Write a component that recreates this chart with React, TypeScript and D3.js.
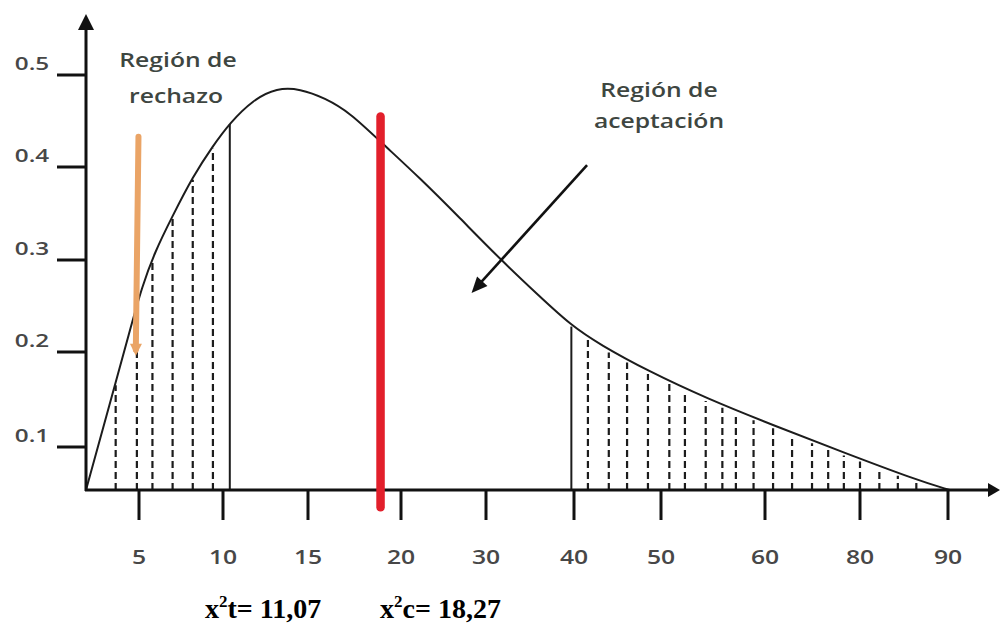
import React from "react";
import * as d3 from "d3";

// tick values
const xTicks = [5, 10, 15, 20, 30, 40, 50, 60, 80, 90];
const yTicks = [0.1, 0.2, 0.3, 0.4, 0.5];

// density curve (chi-square shape)
const curveX = [0, 2.26, 4.15, 5.18, 5.95, 6.96, 8.21, 9.4, 10.41, 11.76, 13.18, 14.53, 15.91, 17.26, 18.92, 22.24, 26.94, 31.59, 36.14, 39.66, 42.99, 48.51, 54.42, 61.68, 76.42, 86.48, 90.2];
const curveY = [0, 0.146, 0.224, 0.271, 0.309, 0.346, 0.39, 0.423, 0.448, 0.473, 0.486, 0.485, 0.475, 0.459, 0.427, 0.388, 0.345, 0.301, 0.26, 0.229, 0.208, 0.18, 0.151, 0.123, 0.088, 0.023, 0];

// hatching of the two shaded tails
const leftHatch = [2.8, 4.8, 5.8, 7.0, 8.2, 9.4];
const leftEdge = 10.4;
const rightHatch = [41.6, 44.0, 46.1, 48.5, 50.8, 52.3, 54.3, 55.9, 57.2, 58.9, 61.7, 65.7, 69.9, 73.3, 76.6, 80, 82.2, 84.3, 86.4];
const rightEdge = 39.7;

// calculated statistic line
const chiCalcX = 18.9;
const chiT = "11,07";
const chiC = "18,27";

export default function App() {
  // the axes are drawn by hand, so the spacing is uneven
  const x = d3.scaleLinear()
    .domain([0, ...xTicks])
    .range([86, 139, 223, 308, 401, 486, 574, 661, 765, 860, 948]);
  const y = d3.scaleLinear()
    .domain([0, ...yTicks])
    .range([490, 447, 352, 260, 167, 75]);

  const pts: [number, number][] = curveX.map((v, i) => [v, curveY[i]]);
  const line = d3.line<[number, number]>()
    .x(d => x(d[0]))
    .y(d => y(d[1]))
    .curve(d3.curveBasis);

  // pixel height of the curve at a given x value
  const curveAt = (v: number) => {
    const px = x(v);
    const i = Math.max(1, d3.bisector((p: [number, number]) => x(p[0])).left(pts, px));
    const a = pts[i - 1], b = pts[i];
    const xa = x(a[0]), xb = x(b[0]);
    const t = (px - xa) / (xb - xa);
    return y(a[1]) + (y(b[1]) - y(a[1])) * t;
  };

  const arrowHead = (x1: number, y1: number, x2: number, y2: number, len: number, half: number) => {
    const ang = Math.atan2(y2 - y1, x2 - x1);
    const bx = x2 - len * Math.cos(ang), by = y2 - len * Math.sin(ang);
    const nx = -Math.sin(ang) * half, ny = Math.cos(ang) * half;
    return `${x2},${y2} ${bx + nx},${by + ny} ${bx - nx},${by - ny}`;
  };

  const labelFont = "Open Sans, sans-serif";
  const ink = "#1c1c1c";

  // annotation arrows in data space
  const orange = { x1: x(4.95), y1: y(0.433), x2: x(4.7), y2: y(0.196) };
  const black = { x1: x(41.5), y1: y(0.402), x2: x(28.3), y2: y(0.264) };

  return (
    <svg width={1000} height={623} style={{ position: "absolute", left: 0, top: 0, background: "#fff" }}>
      {/* hatching */}
      {leftHatch.concat(rightHatch).map((v, i) => (
        <line key={"h" + i} x1={x(v)} x2={x(v)} y1={y(0)} y2={curveAt(v) + 3}
          stroke={ink} strokeWidth={2.2} strokeDasharray="7 4" />
      ))}
      {[leftEdge, rightEdge].map((v, i) => (
        <line key={"e" + i} x1={x(v)} x2={x(v)} y1={y(0)} y2={curveAt(v) + 1}
          stroke={ink} strokeWidth={2} />
      ))}

      {/* curve */}
      <path d={line(pts) || ""} fill="none" stroke={ink} strokeWidth={2} />

      {/* y axis */}
      <line x1={x(0)} x2={x(0)} y1={y(0) + 1} y2={24} stroke="#111" strokeWidth={3} />
      <polygon points={`${x(0)},14 ${x(0) - 8},30 ${x(0) + 8},30`} fill="#111" />
      {yTicks.map(t => (
        <g key={"y" + t}>
          <line x1={x(0) - 29} x2={x(0)} y1={y(t)} y2={y(t)} stroke="#111" strokeWidth={3} />
          <text transform={`translate(32,${y(t) - 5}) scale(1.35,1)`} textAnchor="middle"
            fontFamily={labelFont} fontWeight={600} fontSize={18} fill="#474747">{String(t)}</text>
        </g>
      ))}

      {/* x axis */}
      <line x1={x(0) - 1} x2={990} y1={y(0)} y2={y(0)} stroke="#111" strokeWidth={3} />
      <polygon points={`1000,${y(0)} 988,${y(0) - 7} 988,${y(0) + 7}`} fill="#111" />
      {xTicks.map(t => (
        <g key={"x" + t}>
          <line x1={x(t)} x2={x(t)} y1={y(0)} y2={y(0) + 30} stroke="#111" strokeWidth={3} />
          <text transform={`translate(${x(t)},${564}) scale(1.3,1)`} textAnchor="middle"
            fontFamily={labelFont} fontWeight={600} fontSize={19} fill="#474747">{t}</text>
        </g>
      ))}

      {/* calculated value line */}
      <line x1={x(chiCalcX)} x2={x(chiCalcX)} y1={y(0.455)} y2={y(-0.04)}
        stroke="#e21f2b" strokeWidth={8.5} strokeLinecap="round" />

      {/* orange arrow */}
      <line x1={orange.x1} y1={orange.y1} x2={orange.x2} y2={orange.y2 - 6}
        stroke="#eaa466" strokeWidth={6} strokeLinecap="round" />
      <polygon points={arrowHead(orange.x1, orange.y1, orange.x2, orange.y2, 12, 6)} fill="#eaa466" />

      {/* black arrow */}
      <line x1={black.x1} y1={black.y1} x2={black.x2 + 6} y2={black.y2 - 7}
        stroke="#111" strokeWidth={2.6} />
      <polygon points={arrowHead(black.x1, black.y1, black.x2, black.y2, 16, 7)} fill="#111" />

      {/* region labels */}
      <g fontFamily={labelFont} fontWeight={600} fontSize={19} fill="#3e4641" textAnchor="middle">
        <text transform="translate(178,67) scale(1.3,1)">Región de</text>
        <text transform="translate(176,103) scale(1.3,1)">rechazo</text>
        <text transform="translate(659,97) scale(1.3,1)">Región de</text>
        <text transform="translate(659,128) scale(1.3,1)">aceptación</text>
      </g>

      {/* statistics */}
      <g fontFamily="Liberation Serif, Times New Roman, serif" fontWeight="bold" fontSize={28} fill="#000">
        <text x={205} y={618}>x<tspan dy={-11} fontSize={17}>2</tspan><tspan dy={11}>t= {chiT}</tspan></text>
        <text x={380} y={618}>x<tspan dy={-11} fontSize={17}>2</tspan><tspan dy={11}>c= {chiC}</tspan></text>
      </g>
    </svg>
  );
}
